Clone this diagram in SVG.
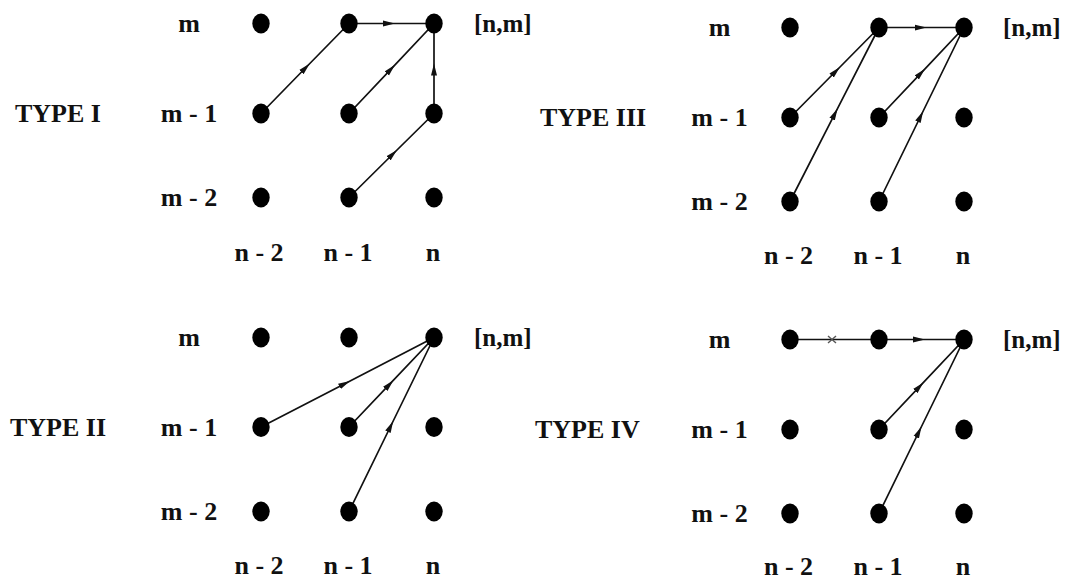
<svg xmlns="http://www.w3.org/2000/svg" width="1069" height="581" viewBox="0 0 1069 581">
  <style>
    .lbl { font-family: "Liberation Serif", "Times New Roman", serif; font-size: 26px; font-weight: bold; fill: #111; }
    .mid { text-anchor: middle; }
    .pos { font-family: "Liberation Serif", "Times New Roman", serif; font-size: 25px; font-weight: bold; fill: #111; }
    .dot { fill: #000; }
    .edge { fill: none; stroke: #111; stroke-width: 1.7; marker-mid: url(#ah); }
    .plain { fill: none; stroke: #111; stroke-width: 1.7; }
    .cross { stroke: #555; stroke-width: 1.4; }
  </style>
  <defs>
    <marker id="ah" markerUnits="userSpaceOnUse" viewBox="0 0 14 8" markerWidth="14" markerHeight="8" refX="12" refY="4" orient="auto">
      <path d="M0,1 L12,4 L0,7 z" fill="#111"/>
    </marker>
    <ellipse id="pt" cx="0" cy="0" rx="8.7" ry="10" class="dot"/>
  </defs>
  <rect width="1069" height="581" fill="#fff"/>

  <!-- connectors: each path passes through the arrowhead tip as its middle vertex -->
  <g id="connectors">
    <!-- TYPE I -->
    <path class="edge" d="M261,113.5 L309.8,63.5 L349,23.5"/>
    <path class="edge" d="M349,23.5 L395,23.5 L434,23.5"/>
    <path class="edge" d="M349,113.5 L395,64.8 L434,23.5"/>
    <path class="edge" d="M434,113.5 L434,63.5 L434,23.5"/>
    <path class="edge" d="M349,197.5 L397,150 L434,113.5"/>
    <!-- TYPE III -->
    <path class="edge" d="M790,117.5 L840,67 L879,27.5"/>
    <path class="edge" d="M790,201.5 L837.6,108.4 L879,27.5"/>
    <path class="edge" d="M879,27.5 L926.5,27.5 L964,27.5"/>
    <path class="edge" d="M879,117.5 L925,68.8 L964,27.5"/>
    <path class="edge" d="M879,201.5 L923.2,111 L964,27.5"/>
    <!-- TYPE II -->
    <path class="edge" d="M261,427 L350.1,380.9 L434,337.5"/>
    <path class="edge" d="M349,427 L393.5,380.2 L434,337.5"/>
    <path class="edge" d="M349,511.5 L393.2,421 L434,337.5"/>
    <!-- TYPE IV -->
    <path class="plain" d="M790,339.5 L879,339.5"/>
    <path class="cross" d="M828,336 L836,343 M828,343 L836,336"/>
    <path class="edge" d="M879,339.5 L925,339.5 L964,339.5"/>
    <path class="edge" d="M879,429.5 L923.5,382.4 L964,339.5"/>
    <path class="edge" d="M879,513.5 L921.5,426.5 L964,339.5"/>
  </g>

  <!-- TYPE I panel -->
  <g id="type1">
    <text class="lbl" x="15" y="122">TYPE I</text>
    <text class="lbl mid" x="189" y="32">m</text>
    <text class="lbl mid" x="189" y="122">m - 1</text>
    <text class="lbl mid" x="189" y="206">m - 2</text>
    <text class="lbl mid" x="259" y="260.5">n - 2</text>
    <text class="lbl mid" x="348" y="260.5">n - 1</text>
    <text class="lbl mid" x="433" y="260.5">n</text>
    <text class="pos" x="474" y="32">[n,m]</text>
    <g id="type1-nodes">
      <use href="#pt" x="261" y="23.5"/><use href="#pt" x="349" y="23.5"/><use href="#pt" x="434" y="23.5"/>
      <use href="#pt" x="261" y="113.5"/><use href="#pt" x="349" y="113.5"/><use href="#pt" x="434" y="113.5"/>
      <use href="#pt" x="261" y="197.5"/><use href="#pt" x="349" y="197.5"/><use href="#pt" x="434" y="197.5"/>
    </g>
  </g>

  <!-- TYPE III panel -->
  <g id="type3">
    <text class="lbl" x="540" y="126">TYPE III</text>
    <text class="lbl mid" x="719.5" y="36">m</text>
    <text class="lbl mid" x="719.5" y="126">m - 1</text>
    <text class="lbl mid" x="719.5" y="210">m - 2</text>
    <text class="lbl mid" x="788.5" y="264">n - 2</text>
    <text class="lbl mid" x="878" y="264">n - 1</text>
    <text class="lbl mid" x="963" y="264">n</text>
    <text class="pos" x="1003" y="36">[n,m]</text>
    <g id="type3-nodes">
      <use href="#pt" x="790" y="27.5"/><use href="#pt" x="879" y="27.5"/><use href="#pt" x="964" y="27.5"/>
      <use href="#pt" x="790" y="117.5"/><use href="#pt" x="879" y="117.5"/><use href="#pt" x="964" y="117.5"/>
      <use href="#pt" x="790" y="201.5"/><use href="#pt" x="879" y="201.5"/><use href="#pt" x="964" y="201.5"/>
    </g>
  </g>

  <!-- TYPE II panel -->
  <g id="type2">
    <text class="lbl" x="10" y="435.5">TYPE II</text>
    <text class="lbl mid" x="189" y="346">m</text>
    <text class="lbl mid" x="189" y="435.5">m - 1</text>
    <text class="lbl mid" x="189" y="520">m - 2</text>
    <text class="lbl mid" x="259" y="574">n - 2</text>
    <text class="lbl mid" x="348" y="574">n - 1</text>
    <text class="lbl mid" x="433" y="574">n</text>
    <text class="pos" x="474" y="346">[n,m]</text>
    <g id="type2-nodes">
      <use href="#pt" x="261" y="337.5"/><use href="#pt" x="349" y="337.5"/><use href="#pt" x="434" y="337.5"/>
      <use href="#pt" x="261" y="427"/><use href="#pt" x="349" y="427"/><use href="#pt" x="434" y="427"/>
      <use href="#pt" x="261" y="511.5"/><use href="#pt" x="349" y="511.5"/><use href="#pt" x="434" y="511.5"/>
    </g>
  </g>

  <!-- TYPE IV panel -->
  <g id="type4">
    <text class="lbl" x="535" y="438">TYPE IV</text>
    <text class="lbl mid" x="719.5" y="348">m</text>
    <text class="lbl mid" x="719.5" y="438">m - 1</text>
    <text class="lbl mid" x="719.5" y="522">m - 2</text>
    <text class="lbl mid" x="788.5" y="575">n - 2</text>
    <text class="lbl mid" x="878" y="575">n - 1</text>
    <text class="lbl mid" x="963" y="575">n</text>
    <text class="pos" x="1003" y="348">[n,m]</text>
    <g id="type4-nodes">
      <use href="#pt" x="790" y="339.5"/><use href="#pt" x="879" y="339.5"/><use href="#pt" x="964" y="339.5"/>
      <use href="#pt" x="790" y="429.5"/><use href="#pt" x="879" y="429.5"/><use href="#pt" x="964" y="429.5"/>
      <use href="#pt" x="790" y="513.5"/><use href="#pt" x="879" y="513.5"/><use href="#pt" x="964" y="513.5"/>
    </g>
  </g>
</svg>
